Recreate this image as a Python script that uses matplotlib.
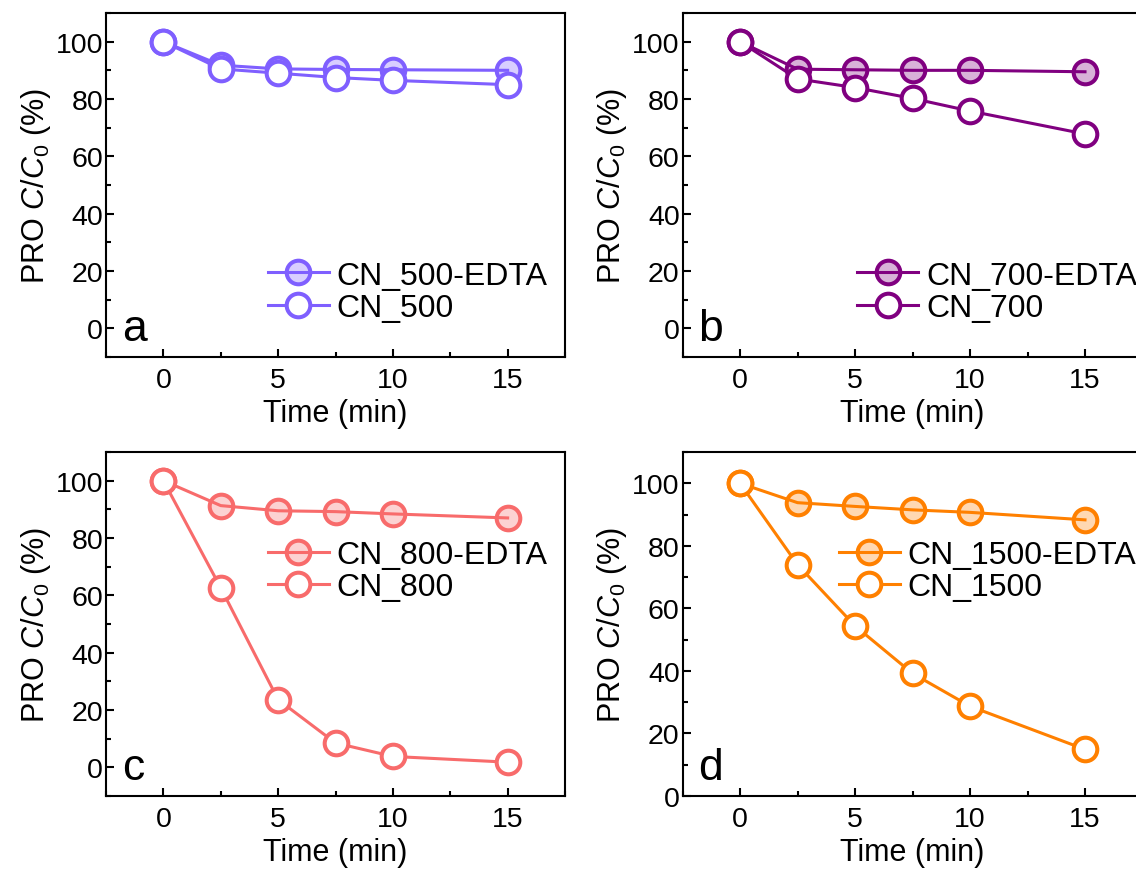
import matplotlib
matplotlib.use('Agg')
import matplotlib.pyplot as plt
from matplotlib.ticker import MultipleLocator
from matplotlib.colors import to_rgba

plt.rcParams['font.family'] = ['Liberation Sans', 'DejaVu Sans']
plt.rcParams['mathtext.fontset'] = 'custom'
plt.rcParams['mathtext.rm'] = 'Liberation Sans'
plt.rcParams['mathtext.it'] = 'Liberation Sans:italic'

# ---------------------------------------------------------------------
# Datos
# ---------------------------------------------------------------------
time_min = [0, 2.5, 5, 7.5, 10, 15]

cn500_edta = [100, 91.8, 90.5, 90.3, 90.2, 90.0]
cn500 = [100, 90.5, 89.0, 87.5, 86.5, 85.0]

cn700_edta = [100, 90.4, 90.2, 90.0, 90.0, 89.5]
cn700 = [100, 87.0, 84.0, 80.2, 75.8, 67.8]

cn800_edta = [100, 91.3, 89.5, 89.2, 88.4, 87.0]
cn800 = [100, 62.6, 23.6, 8.5, 3.8, 1.8]

cn1500_edta = [100, 93.8, 92.6, 91.5, 90.7, 88.3]
cn1500 = [100, 74.0, 54.4, 39.2, 28.7, 14.9]

panels = [
    # (etiqueta, serie EDTA, serie sin EDTA, nombre, color, ylim inferior)
    ('a', cn500_edta, cn500, 'CN_500', '#7F5FFF', -10),
    ('b', cn700_edta, cn700, 'CN_700', '#800080', -10),
    ('c', cn800_edta, cn800, 'CN_800', '#F86B6B', -10),
    ('d', cn1500_edta, cn1500, 'CN_1500', '#FF8000', 0),
]

# posiciones de los ejes en pixeles (izq, arriba, ancho, alto)
W, H = 1136, 870
boxes = [
    (106, 14, 459, 344),
    (682.5, 14, 460, 344),
    (106, 453, 459, 344),
    (682.5, 453, 460, 344),
]
legend_xy = [(0.353, 0.28), (0.380, 0.28), (0.353, 0.745), (0.340, 0.745)]

fig = plt.figure(figsize=(W / 100, H / 100), dpi=100)

for (letter, y_edta, y_plain, name, color, ybot), (l, t, w, h), lxy in zip(panels, boxes, legend_xy):
    ax = fig.add_axes([l / W, 1 - (t + h) / H, w / W, h / H])

    ax.plot(time_min, y_edta, '-o', color=color, lw=2.2, ms=17, mew=2.9,
            mec=color, mfc=to_rgba(color, 0.3), label=name + '-EDTA')
    ax.plot(time_min, y_plain, '-o', color=color, lw=2.2, ms=17, mew=2.9,
            mec=color, mfc='white', label=name)

    ax.set_xlim(-2.5, 17.5)
    ax.set_ylim(ybot, 110)
    ax.xaxis.set_major_locator(MultipleLocator(5))
    ax.xaxis.set_minor_locator(MultipleLocator(2.5))
    ax.yaxis.set_major_locator(MultipleLocator(20))
    ax.yaxis.set_minor_locator(MultipleLocator(10))
    ax.tick_params(which='both', direction='in', top=False, right=False,
                   width=1.5, labelsize=20.5)
    ax.tick_params(which='major', length=6)
    ax.tick_params(which='minor', length=3.5)
    ax.tick_params(axis='x', pad=7)
    ax.tick_params(axis='y', pad=2)
    for sp in ax.spines.values():
        sp.set_linewidth(1.5)

    ax.set_xlabel('Time (min)', fontsize=22, labelpad=4)
    ax.set_ylabel('PRO $\\mathit{C}$/$\\mathit{C}_0$ (%)', fontsize=22, labelpad=2)

    ax.legend(loc='upper left', bbox_to_anchor=lxy, frameon=False, fontsize=23,
              borderpad=0, borderaxespad=0, handlelength=1.9, handletextpad=0.25,
              labelspacing=0.08)

    ax.text(0.035, 0.05, letter, transform=ax.transAxes, fontsize=32,
            ha='left', va='baseline')

fig.savefig('out.png', dpi=100)
